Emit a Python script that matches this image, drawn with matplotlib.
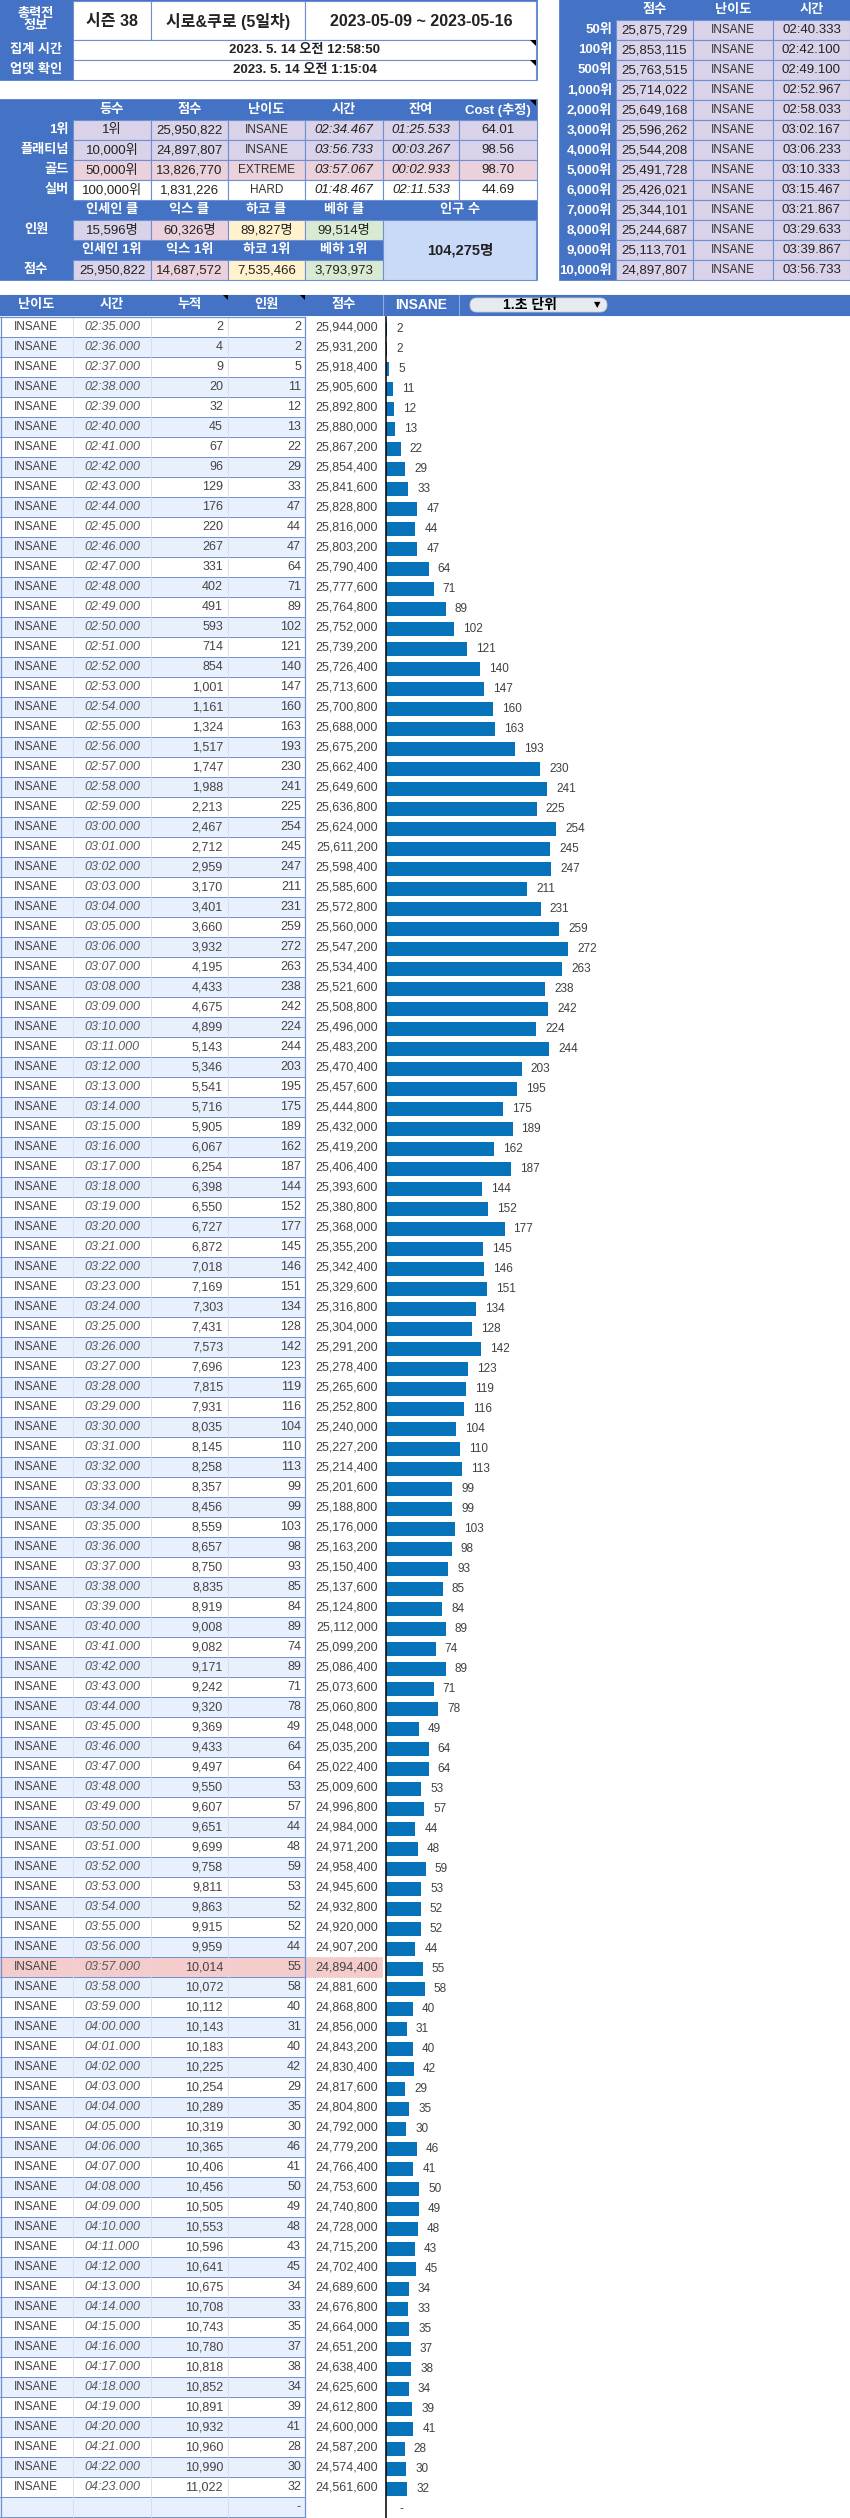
import matplotlib
matplotlib.use('Agg')
import matplotlib.pyplot as plt
from matplotlib.patches import Rectangle, FancyBboxPatch, Polygon

plt.rcParams['font.family'] = ['Liberation Sans', 'Noto Sans CJK KR', 'DejaVu Sans']

# ---- data ----
times = [
    '02:35.000', '02:36.000', '02:37.000', '02:38.000', '02:39.000', '02:40.000',
    '02:41.000', '02:42.000', '02:43.000', '02:44.000', '02:45.000', '02:46.000',
    '02:47.000', '02:48.000', '02:49.000', '02:50.000', '02:51.000', '02:52.000',
    '02:53.000', '02:54.000', '02:55.000', '02:56.000', '02:57.000', '02:58.000',
    '02:59.000', '03:00.000', '03:01.000', '03:02.000', '03:03.000', '03:04.000',
    '03:05.000', '03:06.000', '03:07.000', '03:08.000', '03:09.000', '03:10.000',
    '03:11.000', '03:12.000', '03:13.000', '03:14.000', '03:15.000', '03:16.000',
    '03:17.000', '03:18.000', '03:19.000', '03:20.000', '03:21.000', '03:22.000',
    '03:23.000', '03:24.000', '03:25.000', '03:26.000', '03:27.000', '03:28.000',
    '03:29.000', '03:30.000', '03:31.000', '03:32.000', '03:33.000', '03:34.000',
    '03:35.000', '03:36.000', '03:37.000', '03:38.000', '03:39.000', '03:40.000',
    '03:41.000', '03:42.000', '03:43.000', '03:44.000', '03:45.000', '03:46.000',
    '03:47.000', '03:48.000', '03:49.000', '03:50.000', '03:51.000', '03:52.000',
    '03:53.000', '03:54.000', '03:55.000', '03:56.000', '03:57.000', '03:58.000',
    '03:59.000', '04:00.000', '04:01.000', '04:02.000', '04:03.000', '04:04.000',
    '04:05.000', '04:06.000', '04:07.000', '04:08.000', '04:09.000', '04:10.000',
    '04:11.000', '04:12.000', '04:13.000', '04:14.000', '04:15.000', '04:16.000',
    '04:17.000', '04:18.000', '04:19.000', '04:20.000', '04:21.000', '04:22.000',
    '04:23.000',
]
cumulative = [
    2, 4, 9, 20, 32, 45, 67, 96, 129, 176, 220, 267,
    331, 402, 491, 593, 714, 854, 1001, 1161, 1324, 1517, 1747, 1988,
    2213, 2467, 2712, 2959, 3170, 3401, 3660, 3932, 4195, 4433, 4675, 4899,
    5143, 5346, 5541, 5716, 5905, 6067, 6254, 6398, 6550, 6727, 6872, 7018,
    7169, 7303, 7431, 7573, 7696, 7815, 7931, 8035, 8145, 8258, 8357, 8456,
    8559, 8657, 8750, 8835, 8919, 9008, 9082, 9171, 9242, 9320, 9369, 9433,
    9497, 9550, 9607, 9651, 9699, 9758, 9811, 9863, 9915, 9959, 10014, 10072,
    10112, 10143, 10183, 10225, 10254, 10289, 10319, 10365, 10406, 10456, 10505, 10553,
    10596, 10641, 10675, 10708, 10743, 10780, 10818, 10852, 10891, 10932, 10960, 10990,
    11022,
]
players = [
    2, 2, 5, 11, 12, 13, 22, 29, 33, 47, 44, 47,
    64, 71, 89, 102, 121, 140, 147, 160, 163, 193, 230, 241,
    225, 254, 245, 247, 211, 231, 259, 272, 263, 238, 242, 224,
    244, 203, 195, 175, 189, 162, 187, 144, 152, 177, 145, 146,
    151, 134, 128, 142, 123, 119, 116, 104, 110, 113, 99, 99,
    103, 98, 93, 85, 84, 89, 74, 89, 71, 78, 49, 64,
    64, 53, 57, 44, 48, 59, 53, 52, 52, 44, 55, 58,
    40, 31, 40, 42, 29, 35, 30, 46, 41, 50, 49, 48,
    43, 45, 34, 33, 35, 37, 38, 34, 39, 41, 28, 30, 32,
]
scores = [
    25944000, 25931200, 25918400, 25905600, 25892800, 25880000, 25867200, 25854400,
    25841600, 25828800, 25816000, 25803200, 25790400, 25777600, 25764800, 25752000,
    25739200, 25726400, 25713600, 25700800, 25688000, 25675200, 25662400, 25649600,
    25636800, 25624000, 25611200, 25598400, 25585600, 25572800, 25560000, 25547200,
    25534400, 25521600, 25508800, 25496000, 25483200, 25470400, 25457600, 25444800,
    25432000, 25419200, 25406400, 25393600, 25380800, 25368000, 25355200, 25342400,
    25329600, 25316800, 25304000, 25291200, 25278400, 25265600, 25252800, 25240000,
    25227200, 25214400, 25201600, 25188800, 25176000, 25163200, 25150400, 25137600,
    25124800, 25112000, 25099200, 25086400, 25073600, 25060800, 25048000, 25035200,
    25022400, 25009600, 24996800, 24984000, 24971200, 24958400, 24945600, 24932800,
    24920000, 24907200, 24894400, 24881600, 24868800, 24856000, 24843200, 24830400,
    24817600, 24804800, 24792000, 24779200, 24766400, 24753600, 24740800, 24728000,
    24715200, 24702400, 24689600, 24676800, 24664000, 24651200, 24638400, 24625600,
    24612800, 24600000, 24587200, 24574400, 24561600,
]
highlight_time = '03:57.000'

rank_labels = ['50위', '100위', '500위', '1,000위', '2,000위', '3,000위', '4,000위',
               '5,000위', '6,000위', '7,000위', '8,000위', '9,000위', '10,000위']
rank_scores = ['25,875,729', '25,853,115', '25,763,515', '25,714,022', '25,649,168',
               '25,596,262', '25,544,208', '25,491,728', '25,426,021', '25,344,101',
               '25,244,687', '25,113,701', '24,897,807']
rank_times = ['02:40.333', '02:42.100', '02:49.100', '02:52.967', '02:58.033', '03:02.167',
              '03:06.233', '03:10.333', '03:15.467', '03:21.867', '03:29.633', '03:39.867',
              '03:56.733']

tier_labels = ['1위', '플래티넘', '골드', '실버']
tier_ranks = ['1위', '10,000위', '50,000위', '100,000위']
tier_scores = ['25,950,822', '24,897,807', '13,826,770', '1,831,226']
tier_diff = ['INSANE', 'INSANE', 'EXTREME', 'HARD']
tier_time = ['02:34.467', '03:56.733', '03:57.067', '01:48.467']
tier_left = ['01:25.533', '00:03.267', '00:02.933', '02:11.533']
tier_cost = ['64.01', '98.56', '98.70', '44.69']

clear_heads = ['인세인 클', '익스 클', '하코 클', '베하 클']
clear_counts = ['15,596명', '60,326명', '89,827명', '99,514명']
top_heads = ['인세인 1위', '익스 1위', '하코 1위', '베하 1위']
top_scores = ['25,950,822', '14,687,572', '7,535,466', '3,793,973']
population = '104,275명'

# ---- style ----
BLUE = '#4472C4'
LINE = '#6f8fd3'
LAV = '#D9D2E9'
PINK = '#EAD1DC'
CREAM = '#FFF2CC'
GREEN = '#D9EAD3'
SKY = '#C9DAF8'
ALT = '#E8F0FD'
HILITE = '#F4CCCC'
BAR = '#0672BA'
DARK = '#222222'
GRAY = '#444444'

W, H = 850, 2518
fig = plt.figure(figsize=(W / 100, H / 100), dpi=100)
ax = fig.add_axes([0, 0, 1, 1])
ax.set_xlim(0, W)
ax.set_ylim(H, 0)
ax.axis('off')

cx = [0, 73, 151, 228, 305, 383, 459, 537]
rx = [560, 616, 693, 773, 850]


def cell(x0, x1, y0, y1, fc, ec=LINE, lw=0.8):
    ax.add_patch(Rectangle((x0, y0), x1 - x0, y1 - y0, facecolor=fc,
                           edgecolor=ec, linewidth=lw))


def txt(x, y, s, ha='center', size=9.5, color=DARK, weight='normal', style='normal', **kw):
    ax.text(x, y, s, ha=ha, va='center', fontsize=size, color=color,
            fontweight=weight, fontstyle=style, **kw)


def mark(x, y, s=6):
    ax.add_patch(Polygon([(x - s, y), (x, y), (x, y + s)], closed=True,
                         facecolor='black', edgecolor='none'))


def mid(a, b):
    return (a + b) / 2


# ---- top info block ----
cell(0, 537, 0, 80, BLUE, ec=BLUE, lw=1.2)
cell(0, 73, 0, 40, BLUE, ec=BLUE)
txt(36, 20, '총력전\n정보', color='white', weight='bold', linespacing=1.05)
cell(73, 151, 1, 40, 'white')
txt(112, 21, '시즌 38', size=11.5, weight='bold')
cell(151, 305, 1, 40, 'white')
txt(228, 21, '시로&쿠로 (5일차)', size=11.5, weight='bold')
cell(305, 536, 1, 40, 'white')
txt(421, 21, '2023-05-09 ~ 2023-05-16', size=11.5, weight='bold')
for y0, lab, val in [(40, '집계 시간', '2023. 5. 14 오전 12:58:50'),
                     (60, '업뎃 확인', '2023. 5. 14 오전 1:15:04')]:
    txt(36, y0 + 10, lab, color='white', weight='bold')
    cell(73, 536, y0, y0 + 20, 'white')
    txt(305, y0 + 10, val, weight='bold')
    mark(536, y0)

# ---- tier block ----
cell(0, 537, 100, 280, BLUE, ec=BLUE, lw=1.2)
for j, h in enumerate(['등수', '점수', '난이도', '시간', '잔여', 'Cost (추정)']):
    txt(mid(cx[j + 1], cx[j + 2]), 110, h, color='white', weight='bold')
mark(536, 100)
row_bg = [LAV, LAV, PINK, 'white']
for i in range(4):
    y0 = 120 + 20 * i
    txt(69, y0 + 10, tier_labels[i], ha='right', color='white', weight='bold')
    vals = [tier_ranks[i], tier_scores[i], tier_diff[i], tier_time[i], tier_left[i], tier_cost[i]]
    for j, v in enumerate(vals):
        cell(cx[j + 1], cx[j + 2], y0, y0 + 20, row_bg[i])
        if j == 2:
            txt(mid(cx[j + 1], cx[j + 2]), y0 + 10, v, size=8.5, color='#333333')
        else:
            txt(mid(cx[j + 1], cx[j + 2]), y0 + 10, v,
                style='italic' if j in (3, 4) else 'normal')

col_bg = [LAV, PINK, CREAM, GREEN]
for j in range(4):
    xm = mid(cx[j + 1], cx[j + 2])
    txt(xm, 210, clear_heads[j], color='white', weight='bold')
    cell(cx[j + 1], cx[j + 2], 220, 240, col_bg[j])
    txt(xm, 230, clear_counts[j])
    txt(xm, 250, top_heads[j], color='white', weight='bold')
    cell(cx[j + 1], cx[j + 2], 260, 280, col_bg[j])
    txt(xm, 270, top_scores[j])
txt(36, 230, '인원', color='white', weight='bold')
txt(36, 270, '점수', color='white', weight='bold')
txt(mid(383, 537), 210, '인구 수', color='white', weight='bold')
cell(383, 536, 220, 280, SKY)
txt(mid(383, 537), 250, population, size=10.5, weight='bold')

# ---- rank block (right) ----
cell(560, 850, 0, 280, BLUE, ec=BLUE, lw=1.2)
for j, h in enumerate(['점수', '난이도', '시간']):
    txt(mid(rx[j + 1], rx[j + 2]), 10, h, color='white', weight='bold')
for i in range(len(rank_labels)):
    y0 = 20 + 20 * i
    txt(612, y0 + 10, rank_labels[i], ha='right', color='white', weight='bold')
    for j in range(3):
        cell(rx[j + 1], rx[j + 2], y0, y0 + 20, LAV)
    txt(mid(rx[1], rx[2]), y0 + 10, rank_scores[i])
    txt(mid(rx[2], rx[3]), y0 + 10, 'INSANE', size=8.5, color='#333333')
    txt(mid(rx[3], rx[4]), y0 + 10, rank_times[i])

# ---- table header ----
cell(0, 850, 295, 315, BLUE, ec=BLUE)
for j, h in enumerate(['난이도', '시간', '누적', '인원', '점수']):
    txt(mid(cx[j], cx[j + 1]), 305, h, color='white', weight='bold')
mark(228, 295, 5)
mark(305, 295, 5)
ax.plot([383, 383], [295, 315], color='#8eaadb', lw=0.8)
ax.plot([459, 459], [295, 315], color='#8eaadb', lw=0.8)
txt(mid(383, 459), 305, 'INSANE', color='white', weight='bold', size=10)
ax.add_patch(FancyBboxPatch((470, 298), 137, 14,
                            boxstyle='round,pad=0,rounding_size=7',
                            facecolor='#E7EAEF', edgecolor='#c9cdd5', linewidth=0.6))
txt(530, 305, '1.초 단위', size=10, weight='bold', color='black')
txt(597, 305, '▼', size=6, color='black', family=['DejaVu Sans'])

# ---- table rows ----
top = 317
n = len(times)
for i in range(n + 1):
    y0 = top + 20 * i
    if i < n and times[i] == highlight_time:
        bg = HILITE
    else:
        bg = ALT if i % 2 else 'white'
    ax.add_patch(Rectangle((0, y0), 305, 20, facecolor=bg, edgecolor='none'))
    if bg == HILITE:
        ax.add_patch(Rectangle((305, y0), 77, 20, facecolor=HILITE,
                               edgecolor='#e3b0b0', linewidth=0.6, linestyle=':'))
    ax.plot([0, 305], [y0 + 20, y0 + 20], color=LINE, lw=0.7)
    if i < n:
        txt(36, y0 + 10, 'INSANE', size=8.5, color=GRAY)
        txt(112, y0 + 10, times[i], size=9, color='#5a5a5a', style='italic')
        txt(223, y0 + 10, f'{cumulative[i]:,}', ha='right', size=9, color=GRAY)
        txt(301, y0 + 10, f'{players[i]:,}', ha='right', size=9, color=GRAY)
        txt(378, y0 + 10, f'{scores[i]:,}', ha='right', size=9, color=GRAY)
    else:
        txt(301, y0 + 10, '-', ha='right', size=9, color=GRAY)
ybot = top + 20 * (n + 1)
for x in cx[1:4]:
    ax.plot([x, x], [top, ybot], color='#d6dce8', lw=0.6)
ax.plot([0.5, 0.5], [top, ybot], color=LINE, lw=0.9)
ax.plot([305, 305], [top, ybot], color=LINE, lw=0.9)
ax.plot([0, 305], [top, top], color=LINE, lw=0.9)

# ---- bar chart of players per second ----
axb = fig.add_axes([386 / W, 0, (W - 386) / W, (H - top) / H])
axb.set_facecolor('none')
axb.barh(range(n), players, height=0.68, color=BAR)
for i, v in enumerate(players):
    axb.annotate(str(v), (v, i), xytext=(9, 0), textcoords='offset pixels',
                 ha='left', va='center', fontsize=8.5, color='#404040')
axb.annotate('-', (0, n), xytext=(14, 0), textcoords='offset pixels',
             ha='left', va='center', fontsize=8.5, color='#404040')
axb.set_xlim(0, 693)
axb.set_ylim(-0.6 + (H - top) / 20, -0.6)
for s in ['top', 'right', 'bottom']:
    axb.spines[s].set_visible(False)
axb.spines['left'].set_color('black')
axb.spines['left'].set_linewidth(1.1)
axb.set_xticks([])
axb.set_yticks([])

fig.savefig('out.png', dpi=100)
